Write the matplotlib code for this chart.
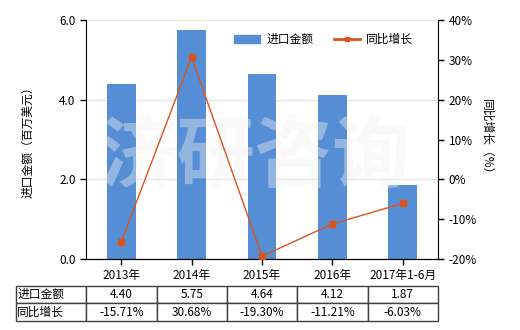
#!/usr/bin/env python3

import matplotlib
matplotlib.use("Agg")
import matplotlib.pyplot as plt
import matplotlib.ticker as ticker
from matplotlib.patches import Patch
from matplotlib.lines import Line2D
import numpy as np

categories = ["2013年", "2014年", "2015年", "2016年", "2017年1-6月"]
import_value = [4.40, 5.75, 4.64, 4.12, 1.87]
yoy_growth = [-15.71, 30.68, -19.30, -11.21, -6.03]
row_labels = ["进口金额", "同比增长"]

bar_color = "#558ed5"
line_color = "#d9541e"


def draw(filename: str):
    plt.rcParams['font.family'] = ['Noto Sans CJK SC', 'DejaVu Sans']
    plt.rcParams['font.size'] = 8.5
    plt.rcParams['axes.unicode_minus'] = False

    fig = plt.figure(figsize=(5.2, 3.3), dpi=100)
    ax = fig.add_axes([0.1654, 0.2152, 0.677, 0.724])
    x = np.arange(len(categories))

    ax.bar(x, import_value, width=0.41, color=bar_color, zorder=2)
    ax.set_xlim(-0.5, len(categories) - 0.5)
    ax.set_ylim(0, 6)
    ax.yaxis.set_major_locator(ticker.MultipleLocator(2))
    ax.yaxis.set_major_formatter(ticker.FormatStrFormatter("%.1f"))
    ax.grid(True, axis="y", color="#e6e6e6", linewidth=1, zorder=0)
    ax.set_axisbelow(True)
    ax.set_xticks(x)
    ax.set_xticklabels(categories)
    ax.tick_params(axis="both", direction="out", length=4, width=1, color="black")
    ax.tick_params(axis="x", pad=3)
    ax.spines["top"].set_visible(False)
    ax.spines["right"].set_visible(False)
    ax.set_ylabel("进口金额（百万美元）", labelpad=18)

    # watermark
    ax.text(0.48, 0.42, "济研咨询", transform=ax.transAxes, fontsize=56,
            fontweight="bold", color="#f2f2f2", alpha=0.4,
            ha="center", va="center", zorder=3)

    ax2 = ax.twinx()
    ax2.plot(x, yoy_growth, "-s", color=line_color, linewidth=1,
             markersize=4.5, zorder=4)
    ax2.set_ylim(-20, 40)
    ax2.yaxis.set_major_locator(ticker.MultipleLocator(10))
    ax2.yaxis.set_major_formatter(ticker.FormatStrFormatter("%d%%"))
    ax2.tick_params(axis="y", direction="out", length=4, width=1)
    ax2.spines["top"].set_visible(False)
    ax2.spines["left"].set_visible(False)
    ax2.set_ylabel("同比增长（%）", rotation=270, labelpad=12)

    handles = [Patch(color=bar_color),
               Line2D([0], [0], color=line_color, marker="s", markersize=3.5,
                      linewidth=2)]
    ax.legend(handles, ["进口金额", "同比增长"], loc="upper right", ncol=2,
              frameon=False, bbox_to_anchor=(0.96, 0.99), handlelength=2.2,
              columnspacing=1.8, handletextpad=0.5)

    cell_text = [[row_labels[0]] + ["%.2f" % v for v in import_value],
                 [row_labels[1]] + ["%.2f%%" % v for v in yoy_growth]]
    tbl = ax.table(cellText=cell_text, cellLoc="center",
                   bbox=[-0.199, -0.259, 1.199, 0.146])
    tbl.auto_set_font_size(False)
    tbl.set_fontsize(8.5)
    for (r, c), cell in tbl.get_celld().items():
        cell.set_edgecolor("#404040")
        cell.set_linewidth(1)
        if c == 0:
            cell.set_text_props(ha="left")
            cell.PAD = 0.02

    fig.savefig(filename, dpi=100)


if __name__ == "__main__":
    draw("out.png")
